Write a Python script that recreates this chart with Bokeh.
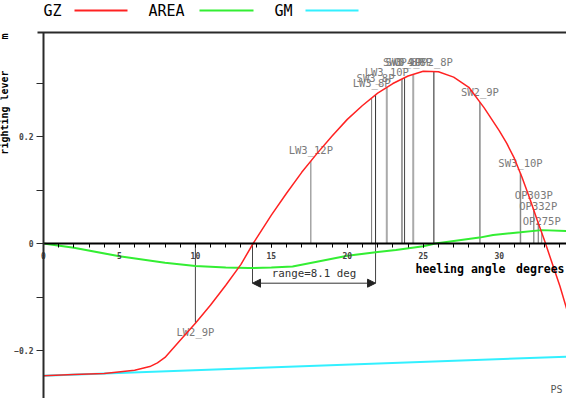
import numpy as np
from bokeh.plotting import figure
from bokeh.models import (LinearAxis, FixedTicker, SingleIntervalTicker, Range1d,
                          Arrow, NormalHead, ColumnDataSource)
from bokeh.core.properties import value
from bokeh.embed import file_html
from bokeh.resources import INLINE

# ---------------- data ----------------
gz_deg = [0, 2, 4, 6, 7, 7.5, 8, 9, 10, 11, 12, 13, 13.8, 15, 16, 17, 18, 19, 20, 21,
          22, 23, 24, 25, 26, 27, 28, 29, 30, 30.5, 31, 31.5, 32, 32.5, 33, 34, 34.9]
gz_val = [-0.247, -0.245, -0.243, -0.237, -0.230, -0.223, -0.213, -0.181, -0.149, -0.115,
          -0.078, -0.039, 0.000, 0.053, 0.094, 0.133, 0.168, 0.201, 0.232, 0.258,
          0.281, 0.299, 0.313, 0.322, 0.321, 0.311, 0.292, 0.254, 0.211, 0.187,
          0.159, 0.124, 0.085, 0.044, 0.004, -0.080, -0.166]

area_deg = [0, 2, 5, 8, 10, 12, 13.5, 15, 16.4, 18, 20, 22, 23.2, 25, 25.8, 28.7, 29.6,
            31.4, 32.8, 34.9]
area_val = [0.0, -0.008, -0.024, -0.036, -0.042, -0.045, -0.046, -0.045, -0.043, -0.034,
            -0.023, -0.016, -0.012, -0.005, 0.0, 0.011, 0.016, 0.021, 0.025, 0.023]

gm_deg = [0, 34.9]
gm_val = [-0.247, -0.211]

cond_names = ["LW2_9P", "LW3_12P", "LW3_8P", "SW3_8P", "LW3_10P", "SW3_9P", "SW0_8P",
              "OP4_8P", "OP2_8P", "SW2_9P", "SW3_10P", "OP303P", "OP332P", "OP275P"]
cond_deg = [10.0, 17.6, 21.6, 21.86, 22.6, 23.6, 23.77, 24.34, 25.7, 28.73, 31.4,
            32.28, 32.57, 32.8]

range_start = 13.76
range_end = 21.86
range_text = "range=8.1 deg"

legend_names = ["GZ", "AREA", "GM"]
x_ticks_major = 5
y_ticks = [-0.2, 0, 0.2]
y_minor = [-0.3, -0.1, 0.1, 0.3]

# ---------------- styles / layout ----------------
RED = "#ff2222"
GREEN = "#33ee33"
CYAN = "#33f0ff"
AX = "#2a2a2a"
MONO = value("DejaVu Sans Mono")
cond_colors = ["#444444", "#777777", "#777777", "#333333", "#aaaaaa", "#444444", "#444444",
               "#aaaaaa", "#222222", "#888888", "#888888", "#666666", "#666666", "#888888"]
cond_widths = [1, 1, 1, 1, 2, 1, 1, 2, 1, 1.5, 1.5, 1, 1, 1]
label_dy = [9, -11, -15, -17, -15, -17, -16, -12, -10, -10, -10, -15, -17, -12]

W, H = 566, 398
PX0, PPD = 51 - 8, 15.19      # canvas px of x=0, px per degree
PY0, PPU = 251 - 8, 535.0     # canvas px of y=0, px per metre


def px2x(px):
    return (px - 8 - PX0) / PPD


def px2y(py):
    return (PY0 - (py - 8)) / PPU


x_start, x_end = px2x(8), px2x(8 + W)
y_end, y_start = px2y(8), px2y(8 + H)
y_top = px2y(40)

p = figure(width=W, height=H, x_range=Range1d(x_start, x_end),
           y_range=Range1d(y_start, y_end), x_axis_type=None, y_axis_type=None,
           toolbar_location=None, output_backend="svg", min_border=0,
           outline_line_color=None, background_fill_color="white")

# axes
xaxis = LinearAxis(fixed_location=0, bounds=(0, x_end),
                   ticker=SingleIntervalTicker(interval=x_ticks_major, num_minor_ticks=5))
xaxis.axis_line_width = 2
xaxis.axis_line_color = "black"
xaxis.major_tick_in = 0
xaxis.major_tick_out = 4
xaxis.minor_tick_in = 0
xaxis.minor_tick_out = 4
xaxis.major_tick_line_color = "black"
xaxis.minor_tick_line_color = "black"
xaxis.major_label_text_font = "DejaVu Sans Mono"
xaxis.major_label_text_font_style = "bold"
xaxis.major_label_text_font_size = "8px"
xaxis.major_label_standoff = 4
p.add_layout(xaxis, "below")

yaxis = LinearAxis(fixed_location=0, bounds=(y_start, y_top),
                   ticker=FixedTicker(ticks=y_ticks, minor_ticks=y_minor))
yaxis.axis_line_width = 2
yaxis.axis_line_color = AX
yaxis.major_tick_in = 0
yaxis.major_tick_out = 7
yaxis.minor_tick_in = 0
yaxis.minor_tick_out = 7
yaxis.major_tick_line_color = AX
yaxis.minor_tick_line_color = AX
yaxis.major_label_overrides = {0: "0"}
yaxis.major_label_text_font = "DejaVu Sans Mono"
yaxis.major_label_text_font_style = "bold"
yaxis.major_label_text_font_size = "8px"
yaxis.major_label_standoff = 3
p.add_layout(yaxis, "left")

# top border
p.segment(x0=[px2x(45)], y0=[y_top], x1=[x_end], y1=[y_top], line_color=AX, line_width=2)

# marker lines and labels
gz_at = np.interp(cond_deg, gz_deg, gz_val)
src = ColumnDataSource(dict(x=cond_deg, y=gz_at, name=cond_names, c=cond_colors,
                            w=cond_widths, dy=label_dy, zero=[0] * len(cond_deg)))
p.segment(x0="x", y0="zero", x1="x", y1="y", line_color="c", line_width="w", source=src)
p.text(x="x", y="y", text="name", y_offset="dy", text_align="center",
       text_baseline="middle", text_font=MONO, text_font_size="10.5px",
       text_color="#7a7a7a", source=src)

# range bracket
y_br = px2y(290.7)
p.segment(x0=[range_start, range_end], y0=[0, 0], x1=[range_start, range_end],
          y1=[y_br, y_br], line_color="#444444", line_width=1)
p.add_layout(Arrow(x_start=range_start, y_start=y_br, x_end=range_end, y_end=y_br,
                   line_color="#333333", line_width=1,
                   start=NormalHead(size=8, fill_color="#222222", line_color="#222222"),
                   end=NormalHead(size=8, fill_color="#222222", line_color="#222222")))
p.text(x=[(range_start + range_end) / 2], y=[px2y(280.7)], text=[range_text],
       text_align="center", text_baseline="middle", text_font=MONO,
       text_font_size="10.8px", text_color="#333333")

# curves
p.line(gm_deg, gm_val, line_color=CYAN, line_width=2)
p.line(area_deg, area_val, line_color=GREEN, line_width=2)
p.line(gz_deg, gz_val, line_color=RED, line_width=1.5)

# axis titles
p.text(x=[px2x(423)], y=[px2y(276.7)], text=["heeling angle"],
       text_align="left", text_baseline="middle", text_font=MONO,
       text_font_size="11.5px", text_font_style="bold", text_color="black")
p.text(x=[px2x(572)], y=[px2y(276.7)], text=["degrees"],
       text_align="right", text_baseline="middle", text_font=MONO,
       text_font_size="11.5px", text_font_style="bold", text_color="black")
p.text(x=[px2x(12), px2x(12)], y=[px2y(120), px2y(44)], text=["righting lever", "m"],
       angle=np.pi / 2, text_align="center", text_baseline="middle", text_font=MONO,
       text_font_size="10px", text_font_style="bold", text_color="black")
p.text(x=[px2x(570)], y=[px2y(402)], text=["PS"], text_align="right",
       text_baseline="bottom", text_font=MONO, text_font_size="10px",
       text_color="#555555")

# legend (text then line)
ly = px2y(18)
p.text(x=[px2x(51), px2x(156), px2x(282)], y=[ly] * 3, text=legend_names,
       text_align="left", text_baseline="middle", text_font=MONO,
       text_font_size="15px", text_color="black")
p.segment(x0=[px2x(82), px2x(207), px2x(313)], y0=[ly] * 3,
          x1=[px2x(135), px2x(261), px2x(366)], y1=[ly] * 3,
          line_color=[RED, GREEN, CYAN], line_width=2)

open("out.html", "w").write(file_html(p, INLINE))
